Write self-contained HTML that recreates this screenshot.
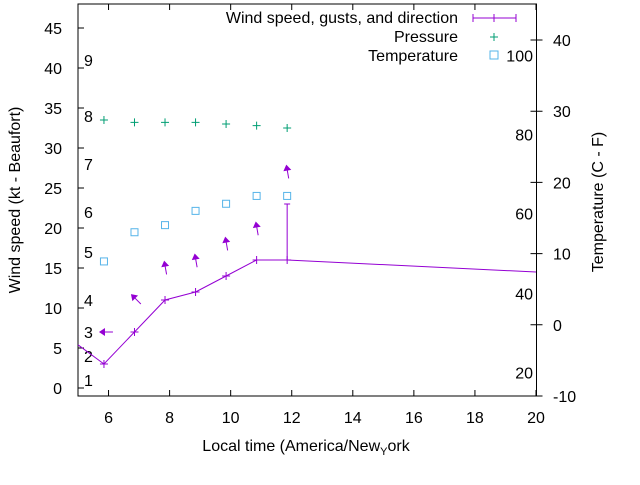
<!DOCTYPE html>
<html><head><meta charset="utf-8"><style>
body{margin:0;background:#fff}
svg text{font-family:"Liberation Sans",sans-serif;font-size:16px;fill:#000}
</style></head><body>
<svg id="chart" width="640" height="480" xmlns="http://www.w3.org/2000/svg">
<g id="axes"></g><g id="marks"></g>
<text transform="translate(20,200) rotate(-90)" text-anchor="middle">Wind speed (kt - Beaufort)</text>
<text transform="translate(603,202) rotate(-90)" text-anchor="middle">Temperature (C - F)</text>
<text x="306" y="451" text-anchor="middle">Local time (America/New<tspan font-size="11" dy="4">Y</tspan><tspan dy="-4">ork</tspan></text>
<g>
<text x="458" y="23" text-anchor="end">Wind speed, gusts, and direction</text>
<line x1="473" y1="18" x2="516" y2="18" stroke="#9400d3"/>
<line x1="473" y1="14" x2="473" y2="22" stroke="#9400d3"/><line x1="516" y1="14" x2="516" y2="22" stroke="#9400d3"/>
<path d="M490,18h8M494,14v8" stroke="#9400d3"/>
<text x="458" y="42" text-anchor="end">Pressure</text>
<path d="M490,37h8M494,33v8" stroke="#009e73"/>
<text x="458" y="61" text-anchor="end">Temperature</text>
<rect x="490" y="51" width="8" height="8" fill="none" stroke="#56b4e9"/>
</g>
</svg>
<script>
const times=[5.85,6.85,7.85,8.85,9.85,10.85,11.85];
const windX=[5,5.85,6.85,7.85,8.85,9.85,10.85,11.85,20];
const windSpeed=[5.4,3,7,11,12,14,16,16,14.5];
const gustX=[11.85];
const gustVal=[23];
const arrowY=[7,11.3,15.3,16.2,18.3,20.2,27.3];
const arrowDir=[-90,-45,-10,-10,-10,-10,-10];
const pressure=[33.5,33.2,33.2,33.2,33.0,32.8,32.5];
const temperature=[8.9,13.0,14.0,16.0,17.0,18.1,18.1];
const xTicks=[6,8,10,12,14,16,18,20];
const yTicks=[0,5,10,15,20,25,30,35,40,45];
const y2Ticks=[-10,0,10,20,30,40];
const beaufort=["1","2","3","4","5","6","7","8","9"];
const beaufortY=[1,4,7,11,17,22,28,34,41];
const fTicks=["20","40","60","80","100"];
const fC=[-6.7,4.4,15.6,26.7,37.8];
const X=v=>78+(v-5)*(458/15);
const Y=v=>388-v*8;
const Y2=v=>324.8-v*7.12;
const NS="http://www.w3.org/2000/svg";
const ax=document.getElementById('axes'),mk=document.getElementById('marks');
function el(p,t,a){const e=document.createElementNS(NS,t);for(const k in a)e.setAttribute(k,a[k]);p.appendChild(e);return e;}
const frame=el(ax,'rect',{x:78,y:4,width:458.5,height:392,fill:'none',stroke:'#000'});


xTicks.forEach(t=>{
 const x=X(t);
 el(ax,'path',{d:`M${x},396v-6M${x},4v6`,stroke:'#000'});
 const tx=el(ax,'text',{x:x,y:423,'text-anchor':'middle'});tx.textContent=t;
 
 
});
yTicks.forEach(t=>{
 const y=Y(t);
 el(ax,'path',{d:`M78,${y}h6`,stroke:'#000'});
 const tx=el(ax,'text',{x:62,y:y+6,'text-anchor':'end'});tx.textContent=t;
 
 
});
y2Ticks.forEach(t=>{
 const y=Y2(t);
 el(ax,'path',{d:`M536.5,${y}h6M536.5,${y}h-6`,stroke:'#000'});
 const tx=el(ax,'text',{x:553,y:y+6});tx.textContent=t;
 
 
});
beaufort.forEach((b,i)=>{
 const tx=el(ax,'text',{x:84,y:Y(beaufortY[i])+6});tx.textContent=b;
 
 
});
fTicks.forEach((f,i)=>{
 const tx=el(ax,'text',{x:533,y:Y2(fC[i])+6,'text-anchor':'end'});tx.textContent=f;
 
 
});
const line=el(mk,'polyline',{points:windX.map((x,i)=>X(x)+','+Y(windSpeed[i])).join(' '),fill:'none',stroke:'#9400d3'});


windX.forEach((x,i)=>{if(i==0||i==windX.length-1)return;
 const p=el(mk,'path',{d:`M${X(x)-4},${Y(windSpeed[i])}h8M${X(x)},${Y(windSpeed[i])-4}v8`,stroke:'#9400d3'});
 
 
});
gustX.forEach((x,i)=>{
 const base=windSpeed[windX.indexOf(x)];
 const g=el(mk,'path',{d:`M${X(x)},${Y(base)}V${Y(gustVal[i])}M${X(x)-3},${Y(gustVal[i])}h6`,stroke:'#9400d3'});
 
 
});
times.forEach((t,i)=>{
 const cx=X(t),cy=Y(arrowY[i]);
 const g=el(mk,'g',{transform:`translate(${cx},${cy}) rotate(${arrowDir[i]})`});
 
 
 el(g,'line',{x1:0,y1:-2,x2:0,y2:9,stroke:'#9400d3'});
 el(g,'path',{d:'M0,-5L-4,1L4,1Z',fill:'#9400d3'});
 const p=el(mk,'path',{d:`M${cx-4},${Y(pressure[i])}h8M${cx},${Y(pressure[i])-4}v8`,stroke:'#009e73'});
 
 
 const r=el(mk,'rect',{x:cx-3.5,y:Y2(temperature[i])-3.5,width:7,height:7,fill:'none',stroke:'#56b4e9'});
 
 
});
</script>
</body></html>
